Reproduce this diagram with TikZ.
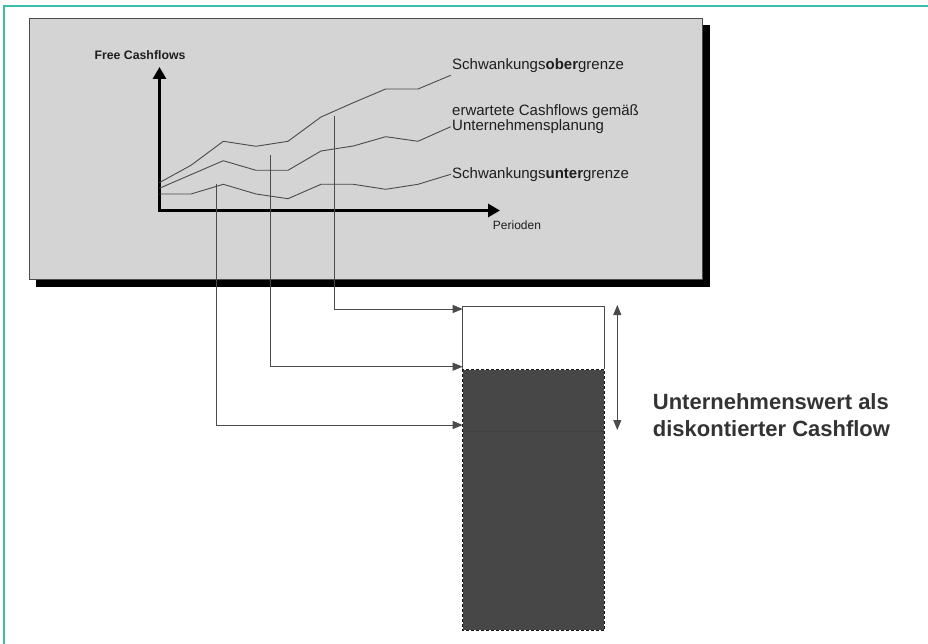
\documentclass[tikz,border=0pt]{standalone}
\usepackage{fontspec}
\setmainfont{Liberation Sans}
\usetikzlibrary{arrows.meta}
\definecolor{frameteal}{RGB}{56,190,170}
\definecolor{panelgrey}{RGB}{212,212,212}
\definecolor{linegrey}{RGB}{75,75,75}
\definecolor{darkfill}{RGB}{71,71,71}
\definecolor{txt}{RGB}{30,30,30}
\tikzset{
  curve/.style={draw=linegrey, line width=0.9pt, line join=round},
  conn/.style={draw=linegrey, line width=0.9pt, -{Triangle[length=10pt,width=8pt]}},
  axis/.style={draw=black, line width=3.4pt, {Triangle[length=12pt,width=13pt]}-{Triangle[length=12pt,width=13pt]}},
  lbl/.style={anchor=west, inner sep=0pt, text=txt, font=\fontsize{15}{15.5}\selectfont, align=left},
}
\begin{document}
\begin{tikzpicture}[x=1pt,y=-1pt]
\useasboundingbox (0,0) rectangle (928,644);
% frame
\draw[frameteal, line width=1.6pt] (4,644) -- (4,6) -- (928,6);
% panel with shadow
\fill[black] (36,25) rectangle (710,287);
\draw[linegrey, fill=panelgrey, line width=0.9pt] (29,18.5) rectangle (702,279);
% axes
\coordinate (ytop) at (159.5,67);
\coordinate (origin) at (159.5,210.5);
\coordinate (xend) at (500,210.5);
\draw[axis] (ytop) -- (origin) -- (xend);
\node[inner sep=0pt, font=\bfseries\fontsize{12.3}{14}\selectfont, text=txt] (ylab) at (140,55) {Free Cashflows};
\node[inner sep=0pt, font=\fontsize{12}{13}\selectfont, text=txt] (xlab) at (517,225) {Perioden};
% curves
\coordinate (u1) at (321,117);
\coordinate (m1) at (256,170.3);
\coordinate (l1) at (223.3,184.3);
\draw[curve] (159.3,182.7) -- (191,165.3) -- (223.3,141.3) -- (256,146.3) -- (288,141.3) -- (u1) -- (353.3,102.7) -- (385.7,89) -- (418,89) -- (450.7,75.3);
\draw[curve] (159.3,188.3) -- (223.3,160.7) -- (m1) -- (288,170.3) -- (321,151) -- (353.3,146) -- (385.7,136.7) -- (418,141.3) -- (450.7,126.7);
\draw[curve] (159.3,194) -- (191,194) -- (l1) -- (256,194) -- (288,198.7) -- (321,184.3) -- (353.3,184.3) -- (385.7,189.3) -- (418,184.3) -- (450.7,174.3);
% labels
\node[lbl] (lo) at (452,66) {Schwankungs\textbf{ober}grenze};
\node[lbl] (le) at (452,119.2) {erwartete Cashflows gemäß\\Unternehmensplanung};
\node[lbl] (lu) at (452,174.3) {Schwankungs\textbf{unter}grenze};
% value bar
\coordinate (wtl) at (462.7,306.7);
\coordinate (wbr) at (604.3,369.3);
\coordinate (dtl) at (462.7,369.3);
\coordinate (dbr) at (604.3,630.7);
\draw[linegrey, fill=white, line width=0.9pt] (wtl) rectangle (wbr);
\fill[darkfill] (dtl) rectangle (dbr);
\draw[white, line width=1pt] (dtl) rectangle (dbr);
\draw[black!90, line width=1pt, dash pattern=on 3pt off 2pt] (dtl) rectangle (dbr);
\draw[black!75, line width=0.9pt] (462.7,431.7) -- (604.3,431.7);
% connector targets
\coordinate (t1) at (462.7,309);
\coordinate (t2) at (462.7,366.7);
\coordinate (t3) at (462.7,425);
\coordinate (s1) at (334,116);
\coordinate (s2) at (270.7,155);
\coordinate (s3) at (216.7,184);
\draw[conn] (s1) |- (t1);
\draw[conn] (s2) |- (t2);
\draw[conn] (s3) |- (t3);
% double arrow
\coordinate (da) at (617.3,305);
\coordinate (db) at (617.3,430);
\draw[draw=linegrey, line width=0.9pt, {Triangle[length=10pt,width=8pt]}-{Triangle[length=10pt,width=8pt]}] (da) -- (db);
\node[anchor=west, inner sep=0pt, align=left, text={rgb,255:red,51;green,51;blue,51}, font=\bfseries\fontsize{22}{26.5}\selectfont] (uw) at (652.7,415) {Unternehmenswert als\\diskontierter Cashflow};
\end{tikzpicture}
\end{document}
